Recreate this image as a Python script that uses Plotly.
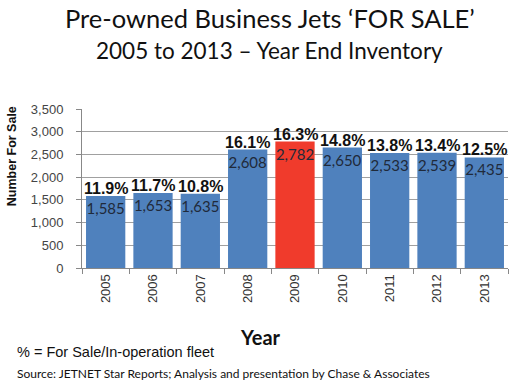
import plotly.graph_objects as go

years = ["2005", "2006", "2007", "2008", "2009", "2010", "2011", "2012", "2013"]
for_sale = [1585, 1653, 1635, 2608, 2782, 2650, 2533, 2539, 2435]
pct_fleet = ["11.9%", "11.7%", "10.8%", "16.1%", "16.3%", "14.8%", "13.8%", "13.4%", "12.5%"]
value_labels = ["1,585", "1,653", "1,635", "2,608", "2,782", "2,650", "2,533", "2,539", "2,435"]
highlight_year = "2009"

blue = "#4F81BD"
red = "#F03B2C"
colors = [red if y == highlight_year else blue for y in years]

fig = go.Figure()
fig.add_trace(go.Bar(
    x=years, y=for_sale, marker=dict(color=colors, line=dict(width=0)),
    text=value_labels, textposition="inside", insidetextanchor="end",
    textangle=0, textfont=dict(family="Lato, Liberation Sans", size=15, color="#1F2A3A"),
    constraintext="none", cliponaxis=False, hoverinfo="skip",
))

for i, (v, p) in enumerate(zip(for_sale, pct_fleet)):
    fig.add_annotation(x=i, y=v, text="<b>" + p + "</b>", showarrow=False,
                       yanchor="bottom", yshift=-3,
                       font=dict(family="Liberation Sans, Arial", size=16, color="#111111"))

fig.update_layout(
    width=523, height=385,
    margin=dict(l=82, r=15, t=109, b=117, autoexpand=False),
    paper_bgcolor="white", plot_bgcolor="white",
    bargap=0.17, showlegend=False,
    font=dict(family="Liberation Sans, Arial", color="#222222"),
    xaxis=dict(type="category", range=[-0.5, 8.5], tickangle=-90,
               tickfont=dict(size=13, color="#333333"),
               showline=True, linecolor="#888888", ticks="outside", ticklen=5,
               tickson="boundaries", tickcolor="#888888"),
    yaxis=dict(range=[0, 3500], dtick=500, tickformat=",d",
               tickfont=dict(size=13, color="#444444"),
               showgrid=True, gridcolor="#A0A0A0", gridwidth=1,
               showline=True, linecolor="#888888", ticks="outside", ticklen=5, tickcolor="#888888",
               ticklabelstandoff=10, zeroline=False),
)

fig.add_annotation(xref="paper", yref="paper", x=-0.164, xanchor="center", y=0.704, yanchor="middle",
                   text="<b>Number For Sale</b>", textangle=-90, showarrow=False,
                   font=dict(family="Liberation Sans, Arial", size=12.5, color="#111111"))
fig.add_annotation(xref="paper", yref="paper", x=0.42, xanchor="center", y=0, yshift=-69,
                   text="<b>Year</b>", showarrow=False, yanchor="middle",
                   font=dict(family="Lato, Liberation Sans", size=20, color="#111111"))
fig.add_annotation(xref="paper", yref="paper", x=0.441, xanchor="center", y=1, yshift=91,
                   text="Pre-owned Business Jets \u2018FOR SALE\u2019", showarrow=False,
                   font=dict(family="Lato, Noto Sans", size=25.5, color="#111111"), yanchor="middle")
fig.add_annotation(xref="paper", yref="paper", x=0.441, xanchor="center", y=1, yshift=59,
                   text="2005 to 2013 \u2013 Year End Inventory", showarrow=False,
                   font=dict(family="Lato, Noto Sans", size=22.5, color="#111111"), yanchor="middle")
fig.add_annotation(xref="paper", yref="paper", x=-0.157, xanchor="left", y=0, yshift=-84,
                   text="% = For Sale/In-operation fleet", showarrow=False, yanchor="middle",
                   font=dict(family="Liberation Sans, Arial", size=14.5, color="#111111"))
fig.add_annotation(xref="paper", yref="paper", x=-0.157, xanchor="left", y=0, yshift=-105,
                   text="Source: JETNET Star Reports; Analysis and presentation by Chase &amp; Associates",
                   showarrow=False, yanchor="middle",
                   font=dict(family="Lato, Liberation Sans", size=12, color="#111111"))

fig.write_html("out.html", config={"displayModeBar": False},
               post_script="document.body.style.margin='0';document.body.style.overflow='hidden';")
